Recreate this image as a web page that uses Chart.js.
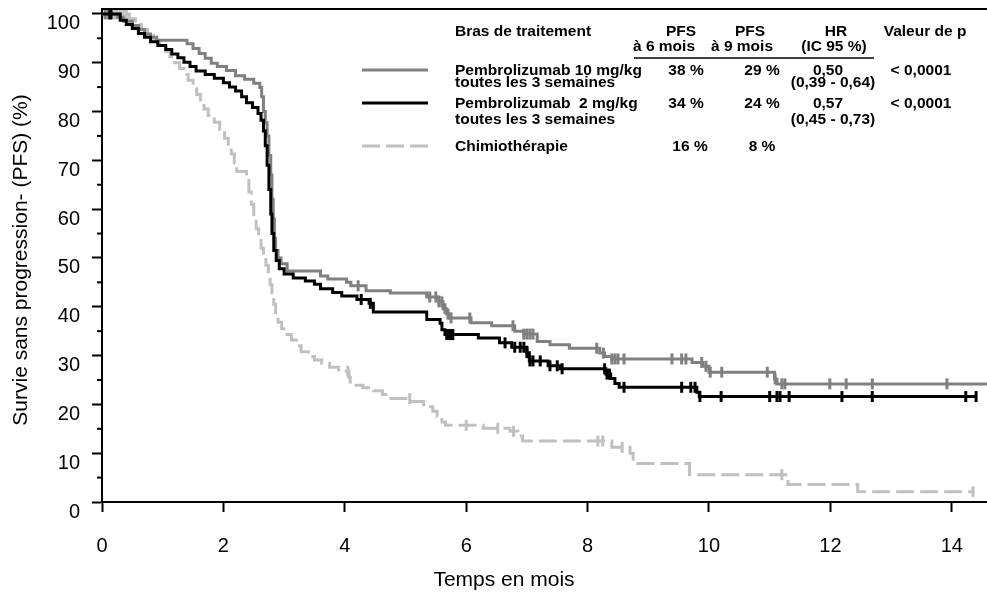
<!DOCTYPE html>
<html lang="fr">
<head>
<meta charset="utf-8">
<title>Survie sans progression</title>
<script src="https://cdn.jsdelivr.net/npm/chart.js@4.4.1/dist/chart.umd.min.js"></script>
<style>
  html, body { margin: 0; padding: 0; background: #fff; overflow: hidden; }
  #wrap { position: relative; width: 987px; height: 594px; }
  canvas { display: block; }
</style>
</head>
<body>
<div id="wrap"><canvas id="chart"></canvas></div>
<script>
// Kaplan-Meier curves: time (months) of each drop and survival (%) after it
const p10Time = [0, 0.25, 0.35, 0.5, 0.6, 0.7, 0.8, 0.9, 1.4, 1.5, 1.6, 1.7, 1.8, 1.9, 2.05, 2.2, 2.35, 2.5, 2.6,
  2.63, 2.66, 2.69, 2.72, 2.75, 2.78, 2.8, 2.82, 2.84, 2.86, 2.9, 2.95, 3.05, 3.6, 3.72, 4.03, 4.1, 4.35, 4.75,
  5.35, 5.55, 5.62, 5.68, 5.73, 6.08, 6.42, 6.8, 6.95, 7.17, 7.38, 7.7, 8.2, 8.28, 8.4, 9.72, 9.9, 10.0, 11.08, 11.12, 14.58];
const p10Surv = [100, 99.3, 98.5, 97.6, 96.8, 95.9, 95.2, 94.6, 93.9, 92.9, 91.9, 90.9, 89.9, 89.2, 88.4, 87.3, 86.6, 85.8, 84.9,
  83, 80, 77.7, 75, 71, 67, 62, 58, 54, 51.5, 50, 48.8, 47.3, 46.3, 45.7, 45.0, 44.3, 43.3, 42.8,
  42.0, 41.0, 39.6, 38.5, 37.7, 36.7, 36.1, 35.0, 34.4, 32.9, 32.2, 31.5, 30.5, 29.8, 29.3, 28.6, 27.8, 26.6, 25.2, 24.2, 24.2];
const p10Censor = [0.05, 0.1, 4.22, 5.4, 5.5, 5.55, 5.6, 5.65, 5.7, 5.75, 6.06, 6.77, 6.95, 7.0, 7.05, 7.1, 8.15, 8.26,
  8.4, 8.45, 8.5, 8.6, 9.39, 9.55, 9.62, 9.88, 9.95, 10.02, 10.21, 10.96, 11.09, 11.2, 11.25, 11.99, 12.26, 12.69, 13.92];

const p2Time = [0, 0.3, 0.4, 0.5, 0.6, 0.7, 0.8, 0.92, 1.05, 1.15, 1.25, 1.35, 1.45, 1.55, 1.7, 1.85, 2.0, 2.1, 2.2, 2.3,
  2.38, 2.48, 2.57, 2.62, 2.66, 2.69, 2.72, 2.75, 2.78, 2.8, 2.83, 2.87, 2.92, 3.0, 3.15, 3.35, 3.5, 3.6, 3.8, 3.95,
  4.2, 4.4, 4.47, 5.35, 5.57, 5.6, 5.65, 6.2, 6.55, 6.75, 7.0, 7.04, 7.35, 7.55, 8.3, 8.38, 8.45, 8.52, 9.8, 9.84, 14.4];
const p2Surv = [100, 98.7, 97.8, 97.0, 96.0, 95.2, 94.3, 93.5, 92.7, 91.8, 91.0, 90.1, 89.2, 88.3, 87.6, 86.8, 85.9, 85.0, 84.2, 83.0,
  81.8, 80.8, 79.6, 78.2, 76, 73, 69, 64, 59, 55, 51.5, 49.5, 47.8, 46.7, 45.9, 45.3, 44.6, 43.7, 42.9, 42.2,
  41.5, 40.7, 38.9, 37.4, 36.6, 35.3, 34.3, 33.6, 32.6, 31.7, 30.6, 28.9, 27.9, 27.3, 26.2, 25.3, 24.3, 23.5, 22.5, 21.6, 21.6];
const p2Censor = [0.13, 0.15, 4.27, 4.42, 5.68, 5.72, 5.75, 5.78, 6.64, 6.8, 6.89, 6.95, 7.0, 7.05, 7.1, 7.22, 7.38, 7.5, 7.58,
  8.28, 8.32, 8.36, 8.6, 9.55, 9.7, 9.77, 9.85, 10.2, 11.0, 11.12, 11.17, 11.32, 12.19, 12.69, 14.23, 14.4];

const chemoTime = [0, 0.45, 0.55, 0.65, 0.75, 0.85, 0.95, 1.05, 1.12, 1.2, 1.28, 1.35, 1.42, 1.5, 1.56, 1.62, 1.68, 1.75, 1.85,
  1.94, 2.02, 2.08, 2.13, 2.18, 2.22, 2.38, 2.42, 2.46, 2.5, 2.54, 2.58, 2.62, 2.66, 2.7, 2.74, 2.77, 2.8, 2.83, 2.86,
  2.9, 2.96, 3.05, 3.12, 3.2, 3.28, 3.4, 3.5, 3.62, 3.75, 3.9, 4.07, 4.09, 4.3, 4.47, 4.62, 4.72, 5.1, 5.3, 5.45,
  5.52, 5.6, 5.66, 6.28, 6.72, 6.85, 6.93, 8.4, 8.7, 8.75, 9.68, 11.3, 12.45, 14.35];
const chemoSurv = [100, 99.0, 97.8, 96.8, 95.6, 94.5, 93.5, 92.3, 91.2, 90.0, 88.8, 87.6, 86.4, 85.0, 83.5, 82.0, 80.5, 79.2, 77.8,
  76.3, 74.5, 73.0, 71.3, 69.5, 67.7, 66.6, 63.5, 61, 58.5, 56, 54, 52, 50.5, 48.5, 46.5, 44.5, 42.5, 40.5, 38.0,
  36.8, 35.5, 34.3, 33.2, 32.0, 30.8, 29.8, 29.1, 28.4, 27.6, 26.8, 25.5, 23.9, 23.4, 22.8, 22.0, 21.2, 20.6, 19.5, 18.6,
  17.5, 16.4, 15.7, 15.1, 14.5, 13.5, 12.5, 11.2, 10.0, 7.9, 5.6, 3.6, 2.1, 2.1];
const chemoCensor = [0.2, 0.25, 0.3, 0.35, 0.4, 4.05, 5.07, 6.0, 6.52, 6.78, 8.17, 8.25, 8.57, 11.2, 14.35];

// axis ticks
const xTicks = [0, 2, 4, 6, 8, 10, 12, 14];
const yTicks = [0, 10, 20, 30, 40, 50, 60, 70, 80, 90, 100];
const yMinorTicks = [5, 15, 25, 35, 45, 55, 65, 75, 85, 95];

// legend table
const armNames = [['Pembrolizumab 10 mg/kg', 'toutes les 3 semaines'], ['Pembrolizumab  2 mg/kg', 'toutes les 3 semaines'], ['Chimiothérapie']];
const pfs6 = ['38 %', '34 %', '16 %'];
const pfs9 = ['29 %', '24 %', '8 %'];
const hrValues = ['0,50', '0,57', ''];
const hrCi = ['(0,39 - 0,64)', '(0,45 - 0,73)', ''];
const pValues = ['< 0,0001', '< 0,0001', ''];

const gray = '#808080';
const black = '#000000';
const light = '#c0c0c0';
const FONT = '"Liberation Sans", Arial, sans-serif';

function survAt(times, surv, t) {
    let s = surv[0];
    for (let i = 0; i < times.length; i++) {
        if (times[i] <= t) s = surv[i];
    }
    return s;
}

function curve(times, surv, color, dash, order) {
    return {
        data: times.map((t, i) => ({ x: t, y: surv[i] })),
        showLine: true,
        stepped: true,
        borderColor: color,
        borderWidth: 3,
        borderDash: dash,
        pointRadius: 0,
        order: order
    };
}

function censors(marks, times, surv, color, order) {
    return {
        data: marks.map(t => ({ x: t, y: survAt(times, surv, t) })),
        showLine: false,
        pointStyle: 'line',
        pointRotation: 90,
        pointRadius: 5.5,
        pointBorderWidth: 3,
        pointBorderColor: color,
        pointBackgroundColor: color,
        order: order
    };
}

// top frame, minor y ticks, axis titles and the legend table
const extras = {
    id: 'extras',
    afterDraw(chart) {
        const ctx = chart.ctx;
        const area = chart.chartArea;
        const ys = chart.scales.y;
        ctx.save();
        ctx.strokeStyle = '#000';
        ctx.lineWidth = 2;
        ctx.beginPath();
        ctx.moveTo(area.left - 1, area.top);
        ctx.lineTo(area.right, area.top);
        ctx.stroke();
        yMinorTicks.forEach(v => {
            const py = ys.getPixelForValue(v);
            ctx.beginPath();
            ctx.moveTo(area.left - 5, py);
            ctx.lineTo(area.left, py);
            ctx.stroke();
        });

        // axis titles
        ctx.fillStyle = '#000';
        ctx.font = '21px ' + FONT;
        ctx.textAlign = 'center';
        ctx.textBaseline = 'middle';
        ctx.fillText('Temps en mois', 504, 580);
        ctx.save();
        ctx.translate(21, 260);
        ctx.rotate(-Math.PI / 2);
        ctx.fillText('Survie sans progression- (PFS) (%)', 0, 0);
        ctx.restore();

        // legend
        ctx.font = 'bold 15.5px ' + FONT;
        ctx.textAlign = 'left';
        ctx.fillText('Bras de traitement', 455, 32);
        ctx.textAlign = 'center';
        ctx.fillText('PFS', 681, 32);
        ctx.fillText('à 6 mois', 664, 47);
        ctx.fillText('PFS', 750, 32);
        ctx.fillText('à 9 mois', 742, 47);
        ctx.fillText('HR', 836, 32);
        ctx.fillText('(IC 95 %)', 834, 47);
        ctx.fillText('Valeur de p', 925, 32);
        ctx.lineWidth = 1.5;
        ctx.beginPath();
        ctx.moveTo(634, 58);
        ctx.lineTo(874, 58);
        ctx.stroke();

        const rowY = [71, 104, 147];
        const line2 = [12, 16];
        const colors = [gray, black, light];
        rowY.forEach((y, i) => {
            ctx.textAlign = 'left';
            ctx.fillText(armNames[i][0], 455, y);
            if (armNames[i][1]) ctx.fillText(armNames[i][1], 455, y + line2[i]);
            ctx.textAlign = 'center';
            ctx.fillText(pfs6[i], i === 2 ? 690 : 686, y);
            ctx.fillText(pfs9[i], 762, y);
            ctx.fillText(hrValues[i], 828, y);
            ctx.fillText(hrCi[i], 833, y + (line2[i] || 0));
            ctx.fillText(pValues[i], 921, y);

            ctx.strokeStyle = colors[i];
            ctx.lineWidth = 3;
            ctx.setLineDash(i === 2 ? [18, 6] : []);
            ctx.beginPath();
            ctx.moveTo(362, y - 1);
            ctx.lineTo(428, y - 1);
            ctx.stroke();
            ctx.setLineDash([]);
        });
        ctx.restore();
    }
};

const tickFont = { family: FONT, size: 20 };

new Chart(document.getElementById('chart'), {
    type: 'scatter',
    data: {
        datasets: [
            curve(p2Time, p2Surv, black, [], 0),
            censors(p2Censor, p2Time, p2Surv, black, 0),
            curve(p10Time, p10Surv, gray, [], 1),
            censors(p10Censor, p10Time, p10Surv, gray, 1),
            curve(chemoTime, chemoSurv, light, [18, 6], 2),
            censors(chemoCensor, chemoTime, chemoSurv, light, 2)
        ]
    },
    options: {
        responsive: true,
        maintainAspectRatio: false,
        animation: false,
        layout: { autoPadding: false, padding: { top: 9, right: 0, left: 0, bottom: 0 } },
        plugins: { legend: { display: false }, tooltip: { enabled: false } },
        scales: {
            x: {
                type: 'linear',
                min: 0,
                max: 14.58,
                afterFit: s => { s.height = 92; s.paddingLeft = 0; s.paddingRight = 0; },
                border: { color: '#000', width: 2 },
                grid: { drawOnChartArea: false, tickLength: 10, tickWidth: 2, tickColor: '#000' },
                ticks: {
                    stepSize: 2,
                    includeBounds: false,
                    padding: 22,
                    color: '#000',
                    font: tickFont,
                    callback: v => xTicks.includes(v) ? v : ''
                }
            },
            y: {
                min: 0,
                max: 101,
                afterFit: s => { s.width = 102; s.paddingTop = 0; s.paddingBottom = 0; },
                border: { color: '#000', width: 2 },
                grid: {
                    drawOnChartArea: false,
                    tickLength: 10,
                    tickWidth: 2,
                    tickColor: c => (c.tick && yTicks.includes(c.tick.value)) ? '#000' : 'rgba(0,0,0,0)'
                },
                ticks: {
                    stepSize: 5,
                    includeBounds: false,
                    padding: 12,
                    labelOffset: 10,
                    color: '#000',
                    font: tickFont,
                    callback: v => yTicks.includes(v) ? v : ''
                }
            }
        }
    },
    plugins: [extras]
});
</script>
</body>
</html>
